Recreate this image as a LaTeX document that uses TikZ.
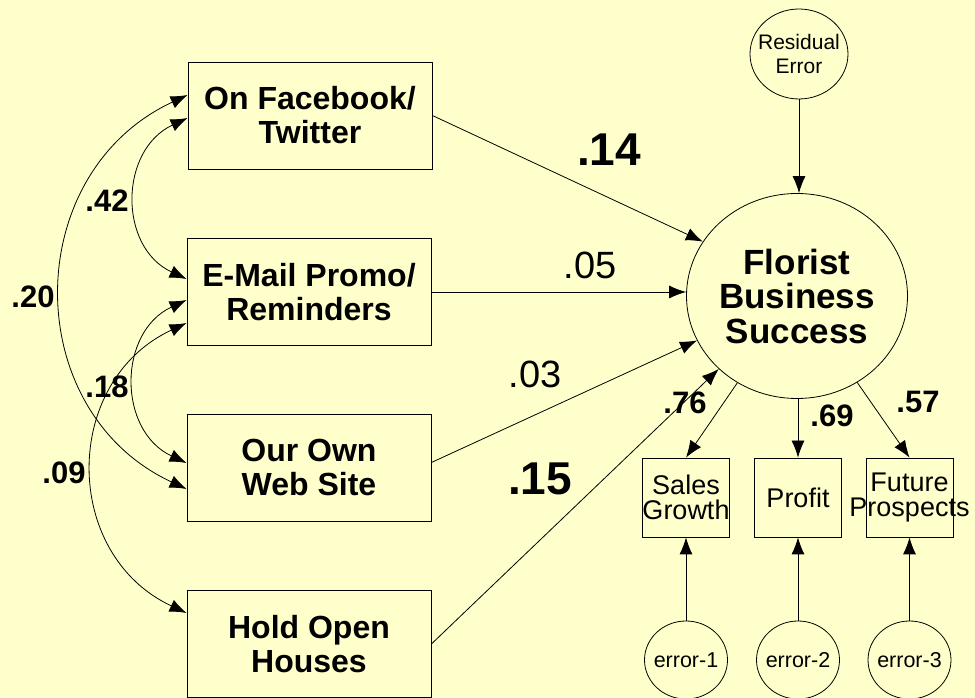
\documentclass[tikz,border=0pt]{standalone}
\usepackage{fontspec}
\setmainfont{Liberation Sans}
\usetikzlibrary{arrows.meta,shapes.geometric}
\definecolor{bg}{HTML}{FFFFCC}
\newcommand{\zw}[1]{\makebox[0pt]{#1}}
\tikzset{
  x=1pt,y=1pt,
  line/.style={line width=0.8pt,draw=black},
  tip/.style={-{Latex[length=17pt,width=13pt]}},
  dtip/.style={{Latex[length=17pt,width=13pt]}-{Latex[length=17pt,width=13pt]}},
  bigbox/.style={draw,line width=0.8pt,minimum width=244pt,minimum height=107pt,inner sep=0pt,align=center,
     font=\fontsize{32}{34}\selectfont\bfseries},
  smallbox/.style={draw,line width=0.8pt,minimum width=87pt,minimum height=79pt,inner sep=0pt,align=center,
     font=\fontsize{27}{25}\selectfont},
  errc/.style={draw,line width=0.8pt,ellipse,minimum width=83pt,minimum height=78pt,inner sep=0pt,
     font=\fontsize{21.5}{23}\selectfont},
  coef/.style={inner sep=0pt,font=\fontsize{31}{31}\selectfont\bfseries},
  bigcoef/.style={inner sep=0pt,font=\fontsize{46}{46}\selectfont\bfseries},
  midcoef/.style={inner sep=0pt,font=\fontsize{38}{38}\selectfont},
  corr/.style={line,dtip,out=205,in=155,looseness=1.2},
}
\begin{document}
\begin{tikzpicture}
\fill[bg] (0,0) rectangle (975,698);
\useasboundingbox (0,0) rectangle (975,698);

% left boxes
\node[bigbox] (fb) at (310,582.5) {On Facebook/\\Twitter};
\node[bigbox] (email) at (309,406) {E-Mail Promo/\\Reminders};
\node[bigbox] (web) at (309,230.5) {Our Own\\Web Site};
\node[bigbox] (hold) at (309,54) {Hold Open\\Houses};

% latent
\node[draw,line width=0.8pt,ellipse,minimum width=221pt,minimum height=205pt,inner sep=0pt,align=center,
  font=\fontsize{35}{34.5}\selectfont\bfseries] (florist) at (797,402) {\zw{Florist}\\\zw{Business}\\\zw{Success}};
\node[draw,line width=0.8pt,ellipse,minimum width=98pt,minimum height=90pt,inner sep=0pt,align=center,
  font=\fontsize{21}{23.5}\selectfont] (resid) at (799,644) {\zw{Residual}\\\zw{Error}};

% indicators
\node[smallbox] (sales) at (686,200.5) {\zw{Sales}\\\zw{Growth}};
\node[smallbox] (profit) at (798,200.5) {Profit};
\node[smallbox] (future) at (909.5,200.5) {\zw{Future}\\\zw{Prospects}};

\node[errc] (e1) at (686,38) {\zw{error-1}};
\node[errc] (e2) at (798,38) {\zw{error-2}};
\node[errc] (e3) at (909.5,38) {\zw{error-3}};

% paths
\draw[line,tip] (fb.east) -- (florist.150);
\draw[line,tip] (email.east) -- (email.east -| florist.west);
\draw[line,tip] ([yshift=5pt]web.east) -- (florist.204);
\draw[line,tip] (hold.east) -- (florist.223);

\draw[line,tip] (resid.south) -- (resid.south |- florist.north);

\draw[line,tip] (florist) -- (sales.north);
\draw[line,tip] (florist.south -| profit.north) -- (profit.north);
\draw[line,tip] (florist) -- (future.north);

\draw[line,tip] (e1.north) -- (sales.south);
\draw[line,tip] (e2.north) -- (profit.south);
\draw[line,tip] (e3.north) -- (future.south);

% correlations
\draw[corr] ([yshift=20.5pt]fb.west) to ([yshift=-21.5pt]web.west);
\draw[corr] ([yshift=-2.5pt]fb.west) to ([yshift=13pt]email.west);
\draw[corr] ([yshift=-8pt]email.west) to ([yshift=4.5pt]web.west);
\draw[corr,looseness=1.22] ([yshift=-31pt]email.west) to ([yshift=31pt]hold.west);

% labels
\node[coef] (l42) at (107,497) {.42};
\node[coef] (l20) at (33,401) {.20};
\node[coef] (l18) at (107,311) {.18};
\node[coef] (l09) at (64,225) {.09};
\node[bigcoef] (l14) at (609,548) {.14};
\node[midcoef] (l05) at (590,433) {.05};
\node[midcoef] (l03) at (535,324) {.03};
\node[bigcoef] (l15) at (540,219) {.15};
\node[coef] (l76) at (685,295) {.76};
\node[coef] (l69) at (832,282) {.69};
\node[coef] (l57) at (918,296) {.57};
\end{tikzpicture}
\end{document}
